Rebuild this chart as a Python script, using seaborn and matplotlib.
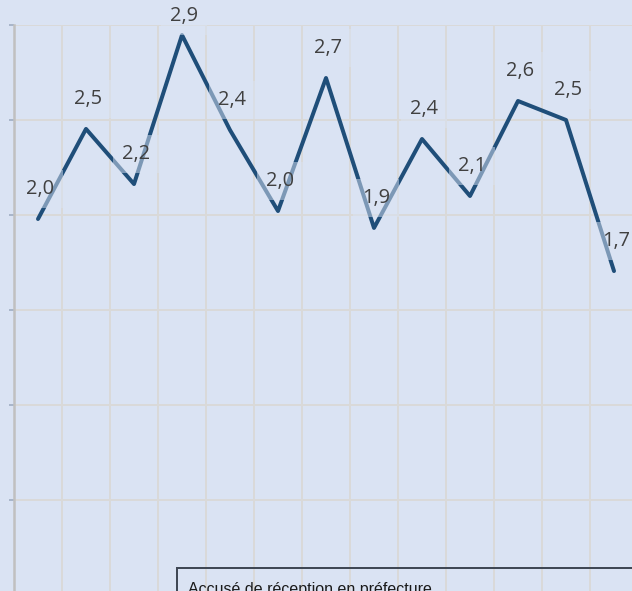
#Ligne de tendance — valeurs annuelles avec étiquettes

import matplotlib.pyplot as plt
import matplotlib.patches as mpatches
import pandas as pd
import seaborn as sns

sns.set_theme(style="white")
plt.rcParams.update({"font.family": ["Open Sans", "DejaVu Sans"]})

BG = "#dae3f3"
LINE = "#1f4e79"
GRID = "#d9d9d9"
LABEL = "#404040"

# data (13 periods, no axis labels visible)
periods = list(range(1, 14))
values = [1.979, 2.453, 2.163, 2.947, 2.447, 2.021, 2.721, 1.932, 2.40, 2.10, 2.60, 2.50, 1.705]

df = pd.DataFrame({"pos": range(len(periods)), "value": values})

fig = plt.figure(figsize=(632 / 72, 591 / 72), dpi=72, facecolor=BG)
ax = fig.add_axes([14 / 632, -4 / 591, 624 / 632, 570 / 591])
ax.set_facecolor(BG)

sns.lineplot(data=df, x="pos", y="value", ax=ax, color=LINE, linewidth=4, zorder=3)

ax.set_xlim(-0.5, len(periods) - 0.5)
ax.set_ylim(0, 3)
ax.set_xticks([i + 0.5 for i in range(len(periods))])
ax.set_yticks([0, 0.5, 1, 1.5, 2, 2.5, 3])
ax.set_xticklabels([])
ax.set_yticklabels([])
ax.set_xlabel("")
ax.set_ylabel("")
ax.grid(True, color=GRID, linewidth=2)
ax.set_axisbelow(True)
ax.tick_params(axis="x", length=0)
ax.tick_params(axis="y", left=True, length=5, width=1.5, color="#9aa8bd")
for side in ["top", "right", "bottom"]:
    ax.spines[side].set_visible(False)
ax.spines["left"].set_color("#c0c0c0")
ax.spines["left"].set_linewidth(2.5)

# data labels, 30 px above each point, kept inside the figure
for x, v in zip(df["pos"], df["value"]):
    py = fig.bbox.height - ax.transData.transform((x, v))[1]
    off = min(30, py - 16)
    ax.annotate(f"{v:.1f}".replace(".", ","), (x, v), xytext=(2, off), textcoords="offset pixels",
                ha="center", va="center", fontsize=20, color=LABEL, zorder=5,
                bbox=dict(boxstyle="square,pad=0.45", fc=BG, ec="none", alpha=0.5))

# cut-off stamp box at the bottom
fig.add_artist(mpatches.Rectangle((177 / 632, -20 / 591), 480 / 632, 43 / 591, transform=fig.transFigure,
                                  fill=False, edgecolor="#404855", linewidth=2, clip_on=False))
fig.text(188 / 632, -3 / 591, "Accusé de réception en préfecture", ha="left", va="baseline",
         fontsize=16, color="#1a1a1a", family=["Liberation Sans", "DejaVu Sans"])

fig.savefig("out.png", dpi=72, facecolor=BG)
plt.close()
